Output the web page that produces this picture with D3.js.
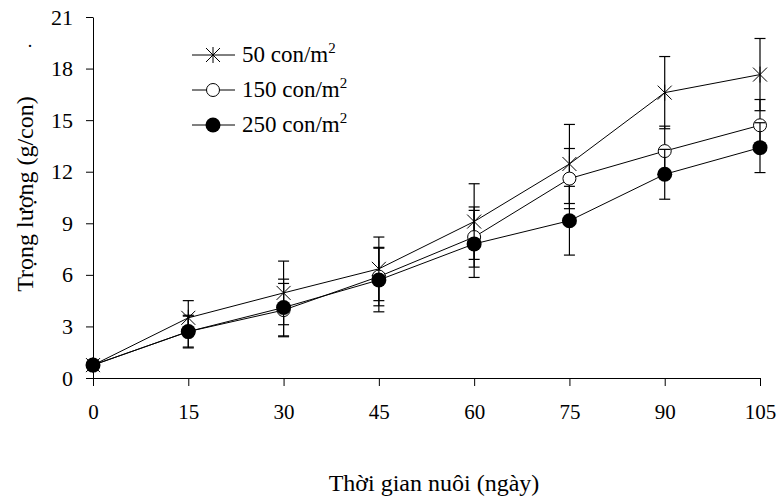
<!DOCTYPE html>
<html>
<head>
<meta charset="utf-8">
<script src="https://cdn.jsdelivr.net/npm/d3@7"></script>
<style>
  body { margin: 0; background: #fff; }
  svg text { font-family: "Liberation Serif", "Times New Roman", Times, serif; fill: #000; }
</style>
</head>
<body>
<div class="chart"></div>
<script>
// ngày nuôi
var days = [0, 15, 30, 45, 60, 75, 90, 105]
var yTicks = [0, 3, 6, 9, 12, 15, 18, 21]

var seriesNames = ["50 con/m", "150 con/m", "250 con/m"]
var w50 = [0.75, 3.5, 4.95, 6.35, 9.1, 12.45, 16.6, 17.65]
var sd50 = [0.1, 1.0, 1.85, 1.85, 2.2, 2.3, 2.1, 2.1]
var w150 = [0.75, 2.7, 3.95, 5.9, 8.2, 11.6, 13.2, 14.7]
var sd150 = [0.1, 0.9, 1.55, 1.7, 1.75, 1.75, 1.45, 1.5]
var w250 = [0.75, 2.7, 4.1, 5.7, 7.8, 9.15, 11.85, 13.4]
var sd250 = [0.1, 0.95, 1.65, 1.85, 1.95, 2.0, 1.45, 1.45]

var series = [
  {name: seriesNames[0], vals: w50, sd: sd50, mark: "star"},
  {name: seriesNames[1], vals: w150, sd: sd150, mark: "open"},
  {name: seriesNames[2], vals: w250, sd: sd250, mark: "filled"}
]

var svg = d3.select(".chart").append("svg")
  .attr("width", 779).attr("height", 499)
  .attr("font-family", "Liberation Serif, Times New Roman, serif")

var x = d3.scaleLinear().domain([0, 105]).range([93, 760])
var y = d3.scaleLinear().domain([0, 21]).range([378, 17])

var xAxis = d3.axisBottom(x).tickValues(days).tickSize(8).tickSizeOuter(0).tickPadding(18)
var yAxis = d3.axisLeft(y).tickValues(yTicks).tickSize(7).tickSizeOuter(0).tickPadding(13)

var gx = svg.append("g").attr("class", "axis x")
  .attr("transform", "translate(0,378)")
  .call(xAxis)
gx.select(".domain").attr("d", "M86,0.5H760")
gx.selectAll("text").style("font-size", "21px")

var gy = svg.append("g").attr("class", "axis y")
  .attr("transform", "translate(93,0)")
  .call(yAxis)
gy.selectAll("text").style("font-size", "22px")

svg.selectAll(".axis").attr("font-family", null)
svg.selectAll(".axis path, .axis line").attr("stroke", "#000").attr("stroke-width", 1)

function marker(g, type) {
  if (type == "star") {
    g.append("path")
      .attr("d", "M-7,-7L7,7M-7,7L7,-7M0,-8L0,8")
      .attr("stroke", "#000").attr("stroke-width", 1).attr("fill", "none")
  } else if (type == "open") {
    g.append("circle").attr("r", 6.5)
      .attr("fill", "#fff").attr("stroke", "#000").attr("stroke-width", 1)
  } else {
    g.append("circle").attr("r", 7.5).attr("fill", "#000")
  }
}

var line = d3.line()
  .x(function(d, i){ return x(days[i]) })
  .y(function(d){ return y(d) })

series.forEach(function(s) {
  var g = svg.append("g").attr("class", "series")

  // error bars
  s.vals.forEach(function(v, i) {
    var cx = x(days[i])
    g.append("line")
      .attr("x1", cx).attr("x2", cx)
      .attr("y1", y(v + s.sd[i])).attr("y2", y(v - s.sd[i]))
      .attr("stroke", "#000").attr("stroke-width", 1.2)
    ;[v + s.sd[i], v - s.sd[i]].forEach(function(e) {
      g.append("line")
        .attr("x1", cx - 5.5).attr("x2", cx + 5.5)
        .attr("y1", y(e)).attr("y2", y(e))
        .attr("stroke", "#000").attr("stroke-width", 1.2)
    })
  })

  g.append("path")
    .datum(s.vals)
    .attr("d", line)
    .attr("fill", "none").attr("stroke", "#000").attr("stroke-width", 1)

  s.vals.forEach(function(v, i) {
    var m = g.append("g").attr("transform", "translate(" + x(days[i]) + "," + y(v) + ")")
    marker(m, s.mark)
  })
})

// legend
var legend = svg.append("g").attr("class", "legend")
series.forEach(function(s, i) {
  var ly = 55 + i * 35
  legend.append("line")
    .attr("x1", 192).attr("x2", 235).attr("y1", ly).attr("y2", ly)
    .attr("stroke", "#000").attr("stroke-width", 1)
  var m = legend.append("g").attr("transform", "translate(213," + ly + ")")
  marker(m, s.mark)
  var t = legend.append("text")
    .attr("x", 242).attr("y", ly + 7)
    .style("font-size", "23px")
    .text(s.name)
  t.append("tspan").attr("dy", -9).style("font-size", "15px").text("2")
})

svg.append("text")
  .attr("transform", "translate(25,194) rotate(-90)")
  .attr("text-anchor", "middle")
  .attr("dy", "0.35em")
  .style("font-size", "24px")
  .text("Trọng lượng (g/con)")

svg.append("text")
  .attr("x", 30).attr("y", 47)
  .attr("text-anchor", "middle")
  .style("font-size", "18px")
  .text(".")

svg.append("text")
  .attr("x", 434).attr("y", 491)
  .attr("text-anchor", "middle")
  .style("font-size", "24px")
  .text("Thời gian nuôi (ngày)")
</script>
</body>
</html>
